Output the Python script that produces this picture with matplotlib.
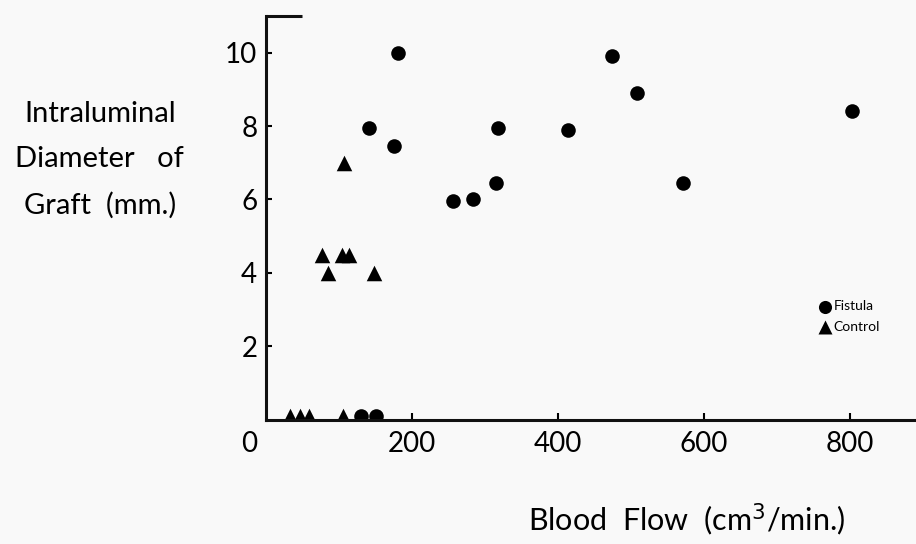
import matplotlib
matplotlib.use("Agg")
import matplotlib.pyplot as plt

plt.rcParams['font.family'] = ['Lato', 'DejaVu Sans']

# Fistula group (circles)
fistula_flow = [182, 142, 176, 318, 316, 474, 509, 414, 804, 572, 257, 284, 131, 151]
fistula_diam = [10, 7.95, 7.45, 7.95, 6.45, 9.9, 8.9, 7.9, 8.4, 6.45, 5.95, 6.0, 0.1, 0.1]

# Control group (triangles)
control_flow = [107, 77, 86, 105, 114, 148, 33, 47, 59, 106]
control_diam = [7.0, 4.5, 4.0, 4.5, 4.5, 4.0, 0.1, 0.1, 0.1, 0.1]

xticks = [200, 400, 600, 800]
yticks = [2, 4, 6, 8, 10]

bg = '#f9f9f9'
fig = plt.figure(figsize=(9.16, 5.44), dpi=100, facecolor=bg)
ax = fig.add_axes([0.290, 0.228, 0.710, 0.743], facecolor=bg)

ax.scatter(fistula_flow, fistula_diam, s=110, marker='o', color='black',
           linewidths=0, zorder=1, label='Fistula')
ax.scatter(control_flow, control_diam, s=125, marker='^', color='black',
           linewidths=0, zorder=1, label='Control')

ax.set_xlim(0, 891)
ax.set_ylim(0, 11)

for side in ['top', 'right']:
    ax.spines[side].set_visible(False)
for side in ['left', 'bottom']:
    ax.spines[side].set_linewidth(2.2)
    ax.spines[side].set_color('#111111')

# short cap at the top of the y axis
ax.plot([0, 50], [11, 11], color='#111111', lw=2.2, clip_on=False,
        solid_capstyle='butt')

ax.set_xticks(xticks)
ax.set_yticks(yticks)
ax.tick_params(axis='x', direction='in', length=5, width=1.5, pad=8,
               labelsize=20)
ax.tick_params(axis='y', direction='in', length=4, width=1.5, pad=6,
               labelsize=20)
ax.text(-22, -0.65, '0', fontsize=20, ha='center', va='center')

fig.text(0.109, 0.706, 'Intraluminal\nDiameter   of\nGraft  (mm.)',
         fontsize=21, ha='center', va='center', linespacing=1.9)
fig.text(0.750, 0.045, 'Blood  Flow  (cm$^3$/min.)', fontsize=22,
         ha='center', va='center')

ax.legend(loc='center left', bbox_to_anchor=(0.886, 0.418),
          bbox_transform=fig.transFigure, frameon=False, fontsize=10,
          handlelength=0.9, handletextpad=0.2, labelspacing=0.6,
          borderpad=0, markerscale=0.9)

fig.savefig('out.png', dpi=100, facecolor=bg)
